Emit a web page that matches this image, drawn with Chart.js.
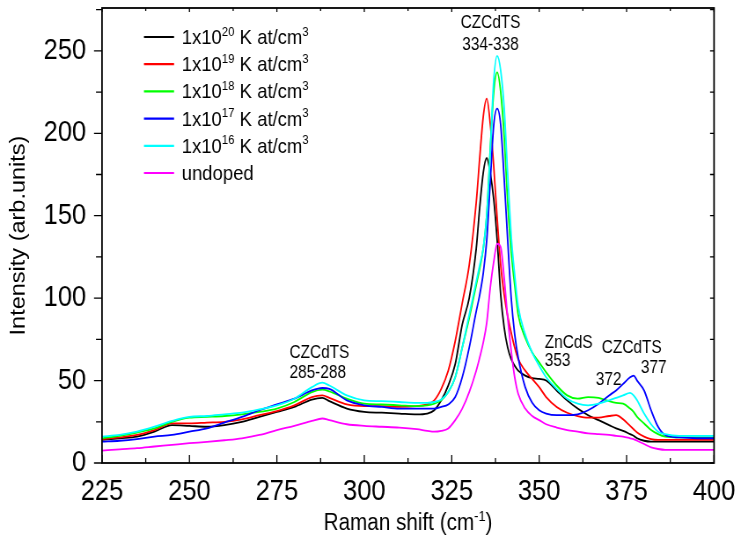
<!DOCTYPE html>
<html>
<head>
<meta charset="utf-8">
<script src="https://cdn.jsdelivr.net/npm/chart.js@4.4.1/dist/chart.umd.min.js"></script>
<style>
  html, body { margin: 0; padding: 0; background: #fff; overflow: hidden; }
  #wrap { width: 737px; height: 537px; overflow: hidden; }
  /* the plot is laid out on a wider canvas and narrowed to the page width */
  #c { display: block; transform: scaleX(0.88); transform-origin: 0 0; }
</style>
</head>
<body>
<div id="wrap"><canvas id="c" width="838" height="537" style="width:838px;height:537px"></canvas></div>
<script>
// Raman shift, cm^-1
const ramanShift = [225,230,235,240,245,250,255,260,265,270,275,280,285,288,290,295,300,305,310,315,
  318,320,322,324,326,328,330,332,333,334,335,336,337,338,339,340,341,342,343,344,
  346,348,350,352,355,358,361,364,367,370,372,374,376,377,378,380,382,384,386,390,395,400];

// Intensity (arb. units) per K doping level
const k1e20 = [14,15,16,19,23,22.5,22,23,25,28,31,34,38.5,39.5,37.5,33,31,30.5,30,29.5,
  30,32,38,47,60,84,100,130,155,176,185,176,160,135,102,82,70,63,59,56,
  53,51.5,51,50,44,38,33,29,26,23,21,19.5,17.5,16.5,15,13.5,13,13,13,13,13,13];
const k1e19 = [14.5,15.5,17,20,24,24,24.5,25,26.5,29,31.5,35,40,41,39.5,35.5,34.5,34.5,34,34.5,
  35.5,38,45,56,74,97,120,158,185,210,221,206,180,148,120,102,89,79,70,63,
  56,51,46,40,34,30.5,28.5,27.5,27.5,28.5,29,26.5,22.5,20.5,18.5,16,14.5,14,14,14,14,14];
const k1e18 = [15,16.5,18.5,21,25,27.5,28,28.5,29.5,31,33,37,43,44.5,43.5,39,36,35.5,35,34.5,
  35,36,38,43,52,70,88,108,118,130,150,190,225,237,225,198,158,128,108,90,
  76,67,61,55,47,41,39,40,39.5,37.5,36.5,36,33,31,28,24,20,17.5,16,15.5,15.5,15.5];
const k1e17 = [13,13.5,14.5,16,17,19,21,24.5,28,32,35.5,39,44,45.5,45,38,35,34,33,33,
  33,33,34,35.5,40,52,70,92,102,115,135,170,205,215,205,172,135,100,78,64,
  46,36.5,32,30,29,29,29.5,32,36,41,44,48,52,53,50,44,32,22,17,15.5,15,15];
const k1e16 = [16,17,19,22,25.5,28,28.5,29.5,30.5,32.5,35,39,46,48.7,47,41,38,37.5,37,36.5,
  36.5,37,38.5,43,52,70,90,110,120,130,150,188,232,247,238,215,175,138,114,95,
  78,67,59,52,45,39,36,35,36,38,39.5,41,42.5,41,38,30,23.5,19,17.5,16.5,16.5,16.5];
const undoped = [7.5,8.3,9,10,11,12,12.8,13.8,15,17,20,22.5,25.5,27,26,23.5,22.5,22,21.5,20.5,
  19.5,19,19.5,21,26,33,43,56,64,73,85,106,122,133,131,112,88,68,52,42,
  33,28.5,26,23.5,21.5,20,19,18,17.5,17,16.5,16,15,14.5,13.5,11.5,9.5,8.5,8,8,8,8];

const seriesLabels = ['1x10^{20} K at/cm^{3}', '1x10^{19} K at/cm^{3}', '1x10^{18} K at/cm^{3}',
  '1x10^{17} K at/cm^{3}', '1x10^{16} K at/cm^{3}', 'undoped'];
const seriesValues = [k1e20, k1e19, k1e18, k1e17, k1e16, undoped];
const seriesColors = ['#000000', '#ff0000', '#00ff00', '#0000ff', '#00ffff', '#ff00ff'];

// axis ranges and tick values
const xTicks = [225, 250, 275, 300, 325, 350, 375, 400];
const yTicks = [0, 50, 100, 150, 200, 250];
const X_MIN = 225, X_MAX = 400, Y_MIN = 0, Y_MAX = 276;

// peak assignments, anchored in data units (shift, intensity)
const peakNotes = [
  { text: 'CZCdTS', x: 336.1, y: 267.6, align: 'center' },
  { text: '334-338', x: 336.1, y: 254.2, align: 'center' },
  { text: 'CZCdTS', x: 278.6, y: 67.4, align: 'left' },
  { text: '285-288', x: 278.6, y: 55.2, align: 'left' },
  { text: 'ZnCdS', x: 351.6, y: 73.4, align: 'left' },
  { text: '353', x: 351.6, y: 62.5, align: 'left' },
  { text: 'CZCdTS', x: 367.9, y: 70.4, align: 'left' },
  { text: '377', x: 379.1, y: 58.3, align: 'left' },
  { text: '372', x: 366.2, y: 51.0, align: 'left' }
];

const FONT = '"Liberation Sans", Arial, Helvetica, sans-serif';
const SX = 0.88; // horizontal narrowing applied to the canvas

function richParts(str) {
  const parts = [];
  const re = /\^\{([^}]*)\}/g;
  let last = 0, m;
  while ((m = re.exec(str)) !== null) {
    if (m.index > last) parts.push([str.slice(last, m.index), false]);
    parts.push([m[1], true]);
    last = re.lastIndex;
  }
  if (last < str.length) parts.push([str.slice(last), false]);
  return parts;
}
function richWidth(ctx, parts, size) {
  let w = 0;
  for (const [t, sup] of parts) {
    ctx.font = `${sup ? size * 0.62 : size}px ${FONT}`;
    w += ctx.measureText(t).width;
  }
  return w;
}
function drawRich(ctx, str, x, baseline, size, align) {
  const parts = richParts(str);
  let cx = x;
  if (align === 'center') cx -= richWidth(ctx, parts, size) / 2;
  ctx.textAlign = 'left';
  ctx.textBaseline = 'alphabetic';
  for (const [t, sup] of parts) {
    ctx.font = `${sup ? size * 0.62 : size}px ${FONT}`;
    ctx.fillText(t, cx, sup ? baseline - size * 0.4 : baseline);
    cx += ctx.measureText(t).width;
  }
}

const decorations = {
  id: 'decorations',
  afterDatasetsDraw(chart) {
    const { ctx, chartArea: a, scales: { x, y } } = chart;
    ctx.save();
    ctx.strokeStyle = '#000';
    ctx.fillStyle = '#000';

    // frame
    ctx.lineWidth = 1.8;
    ctx.strokeRect(a.left, a.top, a.right - a.left, a.bottom - a.top);

    // x ticks: major + minor, inward on bottom and top
    ctx.lineWidth = 1.3;
    ctx.beginPath();
    for (let v = X_MIN; v <= X_MAX + 0.01; v += 12.5) {
      const px = x.getPixelForValue(v);
      const major = xTicks.includes(v);
      const len = major ? 8 : 5;
      ctx.moveTo(px, a.bottom); ctx.lineTo(px, a.bottom - len);
      ctx.moveTo(px, a.top); ctx.lineTo(px, a.top + (major ? 4 : 3));
    }
    // y ticks: outward on the left, inward on the right
    for (let v = Y_MIN; v <= 275; v += 25) {
      const py = y.getPixelForValue(v);
      const major = yTicks.includes(v);
      const len = (major ? 8 : 6) / SX;
      ctx.moveTo(a.left, py); ctx.lineTo(a.left - len, py);
      ctx.moveTo(a.right, py); ctx.lineTo(a.right - 4 / SX, py);
    }
    ctx.stroke();

    // legend
    const lx0 = x.getPixelForValue(237.0), lx1 = x.getPixelForValue(245.6);
    const tx = x.getPixelForValue(247.8);
    seriesLabels.forEach((lab, i) => {
      const ry = 37 + i * 27.2;
      ctx.strokeStyle = seriesColors[i];
      ctx.lineWidth = 2.2;
      ctx.beginPath(); ctx.moveTo(lx0, ry); ctx.lineTo(lx1, ry); ctx.stroke();
      ctx.fillStyle = '#000';
      drawRich(ctx, lab, tx, ry + 7, 21, 'left');
    });

    // peak assignments
    peakNotes.forEach(n => {
      const px = x.getPixelForValue(n.x);
      const py = y.getPixelForValue(n.y);
      drawRich(ctx, n.text, px, py + 6, 17.5, n.align);
    });

    // x axis title
    drawRich(ctx, 'Raman shift (cm^{-1})', (a.left + a.right) / 2, 530, 23.5, 'center');
    ctx.restore();
  }
};

// fixed scale box sizes, no label overhang padding
function fixBox(size, horizontal) {
  return s => {
    if (horizontal) s.height = size; else s.width = size;
    s.paddingTop = 0; s.paddingBottom = 0; s.paddingLeft = 0; s.paddingRight = 0;
  };
}

const datasets = seriesValues.map((vals, i) => ({
  label: seriesLabels[i].replace(/\^\{([^}]*)\}/g, '$1'),
  data: ramanShift.map((s, j) => ({ x: s, y: vals[j] })),
  borderColor: seriesColors[i],
  borderWidth: 1.8,
  pointRadius: 0,
  fill: false,
  cubicInterpolationMode: 'monotone',
  order: seriesValues.length - i
}));

new Chart(document.getElementById('c'), {
  type: 'line',
  data: { datasets },
  options: {
    responsive: false,
    animation: false,
    devicePixelRatio: 1,
    layout: { padding: { left: 0, top: 8, right: 26.6, bottom: 0 } },
    plugins: { legend: { display: false }, tooltip: { enabled: false } },
    scales: {
      x: {
        type: 'linear',
        min: X_MIN, max: X_MAX,
        afterBuildTicks: s => { s.ticks = xTicks.map(v => ({ value: v })); },
        afterFit: fixBox(74, true),
        grid: { display: false, drawTicks: false },
        border: { display: false },
        ticks: { padding: 12, color: '#000', font: { family: FONT, size: 29 } }
      },
      y: {
        type: 'linear',
        min: Y_MIN, max: Y_MAX,
        afterBuildTicks: s => { s.ticks = yTicks.map(v => ({ value: v })); },
        afterFit: fixBox(115.9, false),
        grid: { display: false, drawTicks: false },
        border: { display: false },
        ticks: { padding: 18, color: '#000', font: { family: FONT, size: 29 } },
        title: {
          display: true, text: 'Intensity (arb.units)', color: '#000',
          font: { family: FONT, size: 23.5 }, padding: { top: 7, bottom: 0 }
        }
      }
    }
  },
  plugins: [decorations]
});
</script>
</body>
</html>
